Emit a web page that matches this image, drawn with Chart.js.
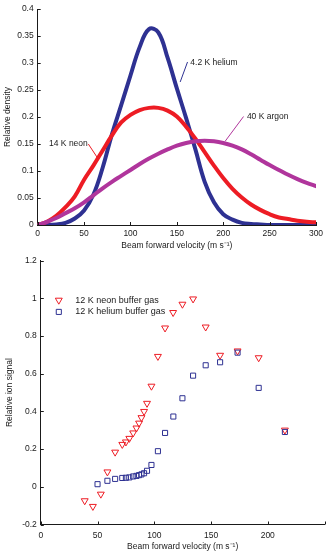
<!DOCTYPE html>
<html>
<head>
<meta charset="utf-8">
<script src="https://cdn.jsdelivr.net/npm/chart.js@4"></script>
<style>
  body { margin: 0; background: #fff; }
  #top { position: absolute; left: 0; top: 0; width: 331px; height: 250px; }
  #bottom { position: absolute; left: 0; top: 250px; width: 331px; height: 306px; }
</style>
</head>
<body>
<div id="top"><canvas id="densityChart"></canvas></div>
<div id="bottom"><canvas id="signalChart"></canvas></div>
<script>
'use strict';

// top panel: beam velocity distributions
let velocity = [0, 10, 20, 30, 40, 50, 60, 70, 80, 90, 100, 110, 120, 130, 140, 150,
    160, 170, 180, 190, 200, 210, 220, 230, 240, 250, 260, 270, 280, 290, 300];
let heliumDensity = [0, 0, 0.001, 0.004, 0.012, 0.027, 0.056, 0.106, 0.168, 0.222, 0.277, 0.33, 0.363, 0.357, 0.31, 0.253,
    0.198, 0.14, 0.08, 0.042, 0.02, 0.01, 0.004, 0.002, 0.001, 0, 0, 0, 0, 0, 0];
let neonDensity = [0, 0.006, 0.017, 0.033, 0.053, 0.084, 0.11, 0.138, 0.166, 0.19, 0.204, 0.213, 0.217, 0.217, 0.212, 0.201,
    0.182, 0.16, 0.135, 0.11, 0.087, 0.067, 0.051, 0.038, 0.028, 0.02, 0.014, 0.011, 0.008, 0.006, 0.005];
let argonDensity = [0, 0.006, 0.013, 0.022, 0.031, 0.042, 0.055, 0.068, 0.08, 0.091, 0.102, 0.113, 0.123, 0.132, 0.14, 0.147,
    0.152, 0.155, 0.156, 0.155, 0.152, 0.147, 0.14, 0.131, 0.121, 0.111, 0.102, 0.093, 0.085, 0.078, 0.072];
let densityTicks = [0, 0.05, 0.1, 0.15, 0.2, 0.25, 0.3, 0.35, 0.4];
let topVelocityTicks = [0, 50, 100, 150, 200, 250, 300];

// bottom panel: ion signal vs beam velocity
let neonVelocity = [38.7, 45.9, 52.9, 58.7, 65.5, 71.8, 75, 78, 81.4, 84.3, 86.6, 88.7, 91, 93.6, 97.5,
    103.2, 109.5, 116.6, 124.8, 134.2, 145.3, 158, 173.4, 192, 215.1];
let neonSignal = [-0.074, -0.104, -0.039, 0.079, 0.184, 0.225, 0.238, 0.257, 0.286, 0.312, 0.338, 0.367, 0.4, 0.443, 0.534,
    0.692, 0.843, 0.925, 0.969, 0.997, 0.848, 0.698, 0.721, 0.685, 0.301];
let heliumVelocity = [50, 58.7, 65.5, 71.8, 75, 78, 81.4, 84.3, 86.6, 88.7, 91, 93.6, 97.5,
    103.2, 109.5, 116.8, 124.8, 134.2, 145.3, 158, 173.4, 192, 215.1];
let heliumSignal = [0.014, 0.032, 0.042, 0.047, 0.048, 0.05, 0.055, 0.058, 0.062, 0.066, 0.072, 0.085, 0.116,
    0.189, 0.286, 0.373, 0.47, 0.59, 0.645, 0.661, 0.712, 0.525, 0.291];
let signalTicks = [-0.2, 0, 0.2, 0.4, 0.6, 0.8, 1, 1.2];
let bottomVelocityTicks = [0, 50, 100, 150, 200, 250];

let blue = '#2e3192';
let red = '#ed1c24';
let purple = '#b0359c';
let ink = '#1a1a1a';

Chart.defaults.font.family = '"Liberation Sans", Arial, sans-serif';
Chart.defaults.font.size = 8.5;
Chart.defaults.color = ink;

function toPoints(xs, ys) {
    let pts = [];
    for (let i = 0; i < xs.length; i++) {
        pts.push({ x: xs[i], y: ys[i] });
    }
    return pts;
}

function fmt(v) {
    return String(+v.toFixed(2));
}

// matlab style ticks pointing into the plot
let innerTicks = {
    id: 'innerTicks',
    afterDraw(chart) {
        let ctx = chart.ctx;
        let x = chart.scales.x;
        let y = chart.scales.y;
        ctx.save();
        ctx.strokeStyle = ink;
        ctx.lineWidth = 1;
        ctx.beginPath();
        x.ticks.forEach(t => {
            let px = Math.round(x.getPixelForValue(t.value)) + 0.5;
            ctx.moveTo(px, y.bottom);
            ctx.lineTo(px, y.bottom - 3);
        });
        y.ticks.forEach(t => {
            let py = Math.round(y.getPixelForValue(t.value)) + 0.5;
            ctx.moveTo(x.left, py);
            ctx.lineTo(x.left + 3, py);
        });
        ctx.stroke();
        ctx.restore();
    }
};

// text labels with leader lines, in data units
let curveLabels = [
    { text: '4.2 K helium', color: blue, from: [153.6, 0.265], to: [161.5, 0.302], at: [164.5, 0.3], align: 'left' },
    { text: '40 K argon', color: purple, from: [202, 0.155], to: [221.9, 0.201], at: [225.5, 0.201], align: 'left' },
    { text: '14 K neon', color: red, from: [65.4, 0.122], to: [54.6, 0.15], at: [54, 0.15], align: 'right' }
];

let labelPlugin = {
    id: 'curveLabels',
    afterDatasetsDraw(chart) {
        let ctx = chart.ctx;
        let x = chart.scales.x;
        let y = chart.scales.y;
        ctx.save();
        ctx.font = '8.5px "Liberation Sans", Arial, sans-serif';
        ctx.textBaseline = 'middle';
        curveLabels.forEach(l => {
            ctx.strokeStyle = l.color;
            ctx.lineWidth = 1;
            ctx.beginPath();
            ctx.moveTo(x.getPixelForValue(l.from[0]), y.getPixelForValue(l.from[1]));
            ctx.lineTo(x.getPixelForValue(l.to[0]), y.getPixelForValue(l.to[1]));
            ctx.stroke();
            ctx.fillStyle = ink;
            ctx.textAlign = l.align;
            ctx.fillText(l.text, x.getPixelForValue(l.at[0]), y.getPixelForValue(l.at[1]));
        });
        ctx.restore();
    }
};

let legendItems = [
    { text: '12 K neon buffer gas', color: red, style: 'triangle', rotation: 180, radius: 4 },
    { text: '12 K helium buffer gas', color: blue, style: 'rect', rotation: 0, radius: 3.6 }
];

let legendPlugin = {
    id: 'insideLegend',
    afterDraw(chart) {
        let ctx = chart.ctx;
        let left = chart.chartArea.left;
        let top = chart.chartArea.top;
        ctx.save();
        ctx.font = '9px "Liberation Sans", Arial, sans-serif';
        ctx.textBaseline = 'middle';
        ctx.textAlign = 'left';
        legendItems.forEach((item, i) => {
            let cy = top + 39.5 + i * 11.7;
            ctx.strokeStyle = item.color;
            ctx.fillStyle = 'rgba(0,0,0,0)';
            ctx.lineWidth = 1;
            Chart.helpers.drawPoint(ctx, { pointStyle: item.style, rotation: item.rotation, radius: item.radius, borderWidth: 1 }, left + 18, cy);
            ctx.fillStyle = ink;
            ctx.fillText(item.text, left + 34.5, cy);
        });
        ctx.restore();
    }
};

function axisOptions(ticks, min, max, width, height, title, titlePad, hideLast) {
    return {
        type: 'linear',
        min: min,
        max: max,
        afterBuildTicks: scale => {
            scale.ticks = ticks.map(v => ({ value: v }));
        },
        afterFit: scale => {
            if (width !== null) scale.width = width;
            if (height !== null) scale.height = height;
        },
        grid: { drawOnChartArea: false, drawTicks: false },
        border: { display: true, color: ink, width: 1 },
        ticks: {
            padding: 4,
            autoSkip: false,
            maxRotation: 0,
            callback: v => (hideLast && v === max) ? '' : fmt(v)
        },
        title: {
            display: true,
            text: title,
            font: { size: 8.5, lineHeight: 1 },
            padding: titlePad
        }
    };
}

let topX = axisOptions(topVelocityTicks, 0, 300, null, 25, 'Beam forward velocity (m s\u207B\u00B9)', { top: 0, bottom: 0 }, false);
topX.ticks.padding = 4;
let topY = axisOptions(densityTicks, 0, 0.4, 37.7, null, 'Relative density', { top: 3, bottom: 0 }, false);

new Chart(document.getElementById('densityChart'), {
    type: 'line',
    data: {
        datasets: [{
            label: '40 K argon',
            data: toPoints(velocity, argonDensity),
            borderColor: purple
        }, {
            label: '14 K neon',
            data: toPoints(velocity, neonDensity),
            borderColor: red
        }, {
            label: '4.2 K helium',
            data: toPoints(velocity, heliumDensity),
            borderColor: blue
        }]
    },
    options: {
        responsive: true,
        maintainAspectRatio: false,
        animation: false,
        devicePixelRatio: 1,
        layout: { padding: { top: 6, right: 15, left: 0, bottom: 0 } },
        elements: {
            line: { borderWidth: 4, tension: 0.4, fill: false, borderCapStyle: 'round', borderJoinStyle: 'round' },
            point: { radius: 0 }
        },
        plugins: { legend: { display: false }, tooltip: { enabled: false } },
        scales: { x: topX, y: topY }
    },
    plugins: [innerTicks, labelPlugin]
});

let botX = axisOptions(bottomVelocityTicks, 0, 250, null, 31.5, 'Beam forward velocity (m s\u207B\u00B9)', { top: 0, bottom: 5 }, true);
botX.ticks.padding = 6.5;
let botY = axisOptions(signalTicks, -0.2, 1.2, 40.8, null, 'Relative ion signal', { top: 5.5, bottom: 0 }, false);

new Chart(document.getElementById('signalChart'), {
    type: 'scatter',
    data: {
        datasets: [{
            label: '12 K helium buffer gas',
            data: toPoints(heliumVelocity, heliumSignal),
            pointStyle: 'rect',
            pointRadius: 3.6,
            borderColor: blue,
            backgroundColor: 'rgba(0,0,0,0)',
            borderWidth: 1
        }, {
            label: '12 K neon buffer gas',
            data: toPoints(neonVelocity, neonSignal),
            pointStyle: 'triangle',
            rotation: 180,
            pointRadius: 4,
            borderColor: red,
            backgroundColor: 'rgba(0,0,0,0)',
            borderWidth: 1
        }]
    },
    options: {
        responsive: true,
        maintainAspectRatio: false,
        animation: false,
        devicePixelRatio: 1,
        layout: { padding: { top: 10.7, right: 4.5, left: 0, bottom: 0 } },
        plugins: { legend: { display: false }, tooltip: { enabled: false } },
        scales: { x: botX, y: botY }
    },
    plugins: [innerTicks, legendPlugin]
});
</script>
</body>
</html>
